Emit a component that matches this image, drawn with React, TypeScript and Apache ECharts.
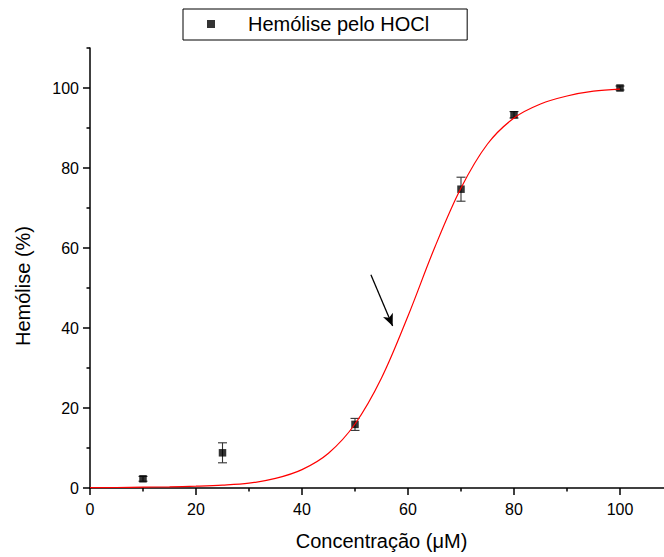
import React, { useEffect, useRef } from "react";
import * as echarts from "echarts";

const FONT = '"Liberation Sans", Arial, sans-serif';

// Measured points: [concentration µM, hemolysis %, error]
const pointX = [10, 25, 50, 70, 80, 100];
const pointY = [2.3, 8.8, 15.9, 74.7, 93.3, 100];
const pointErr = [0.6, 2.5, 1.5, 3.0, 0.8, 0.5];

// Fitted sigmoid curve
const curveX = [0, 5, 10, 15, 20, 25, 30, 35, 40, 45, 50, 55, 60, 65, 70, 75, 80, 85, 90, 95, 100];
const curveY = [0.1, 0.12, 0.2, 0.3, 0.45, 0.7, 1.2, 2.4, 4.6, 8.7, 16, 27.5, 43, 60, 75, 86, 92.5, 96, 98, 99.2, 99.7];

const majorTicks = [0, 20, 40, 60, 80, 100];
const minorTicks = [10, 30, 50, 70, 90, 110];

// Arrow annotation (data coords)
const arrowStart = [53.0, 53.3];
const arrowEnd = [57.1, 40.5];

const seriesName = "Hemólise pelo HOCl";

export default function App() {
  const ref = useRef<HTMLDivElement>(null);
  useEffect(() => {
    if (!ref.current) return;
    const chart = echarts.init(ref.current, null, { renderer: "svg" });
    const axisLine = { show: true, lineStyle: { color: "#000", width: 1.5 } };
    const label = { color: "#000", fontSize: 16, fontFamily: FONT };
    const option: any = {
      animation: false,
      backgroundColor: "#fff",
      grid: { left: 90, top: 48, width: 583, height: 440, outerBoundsMode: "none", containLabel: false },
      legend: {
        data: [seriesName],
        left: 183,
        top: 9,
        orient: "horizontal",
        icon: "rect",
        itemWidth: 8,
        itemHeight: 8,
        borderColor: "#000",
        borderWidth: 1,
        padding: [5, 38, 6, 24],
        textStyle: { color: "#000", fontSize: 20, fontFamily: FONT, lineHeight: 20, padding: [0, 0, 0, 28] },
        selectedMode: false,
      },
      xAxis: [
        {
          type: "value",
          min: 0,
          max: 110,
          interval: 10,
          position: "bottom",
          axisLine,
          splitLine: { show: false },
          axisTick: { show: true, inside: false, length: 7, customValues: majorTicks, lineStyle: { color: "#000", width: 1.5 } },
          axisLabel: { ...label, margin: 13, customValues: majorTicks },
          name: "Concentração (μM)",
          nameLocation: "middle",
          nameGap: 43,
          nameTextStyle: { color: "#000", fontSize: 20, fontFamily: FONT },
        },
        {
          type: "value",
          min: 0,
          max: 110,
          interval: 10,
          position: "bottom",
          axisLine: { show: false },
          splitLine: { show: false },
          axisTick: { show: true, inside: false, length: 3.5, customValues: minorTicks, lineStyle: { color: "#000", width: 1.5 } },
          axisLabel: { show: false },
        },
      ],
      yAxis: [
        {
          type: "value",
          min: 0,
          max: 110,
          interval: 10,
          position: "left",
          axisLine,
          splitLine: { show: false },
          axisTick: { show: true, inside: false, length: 7, customValues: majorTicks, lineStyle: { color: "#000", width: 1.5 } },
          axisLabel: { ...label, margin: 11, customValues: majorTicks },
        },
        {
          type: "value",
          min: 0,
          max: 110,
          interval: 10,
          position: "left",
          axisLine: { show: false },
          splitLine: { show: false },
          axisTick: { show: true, inside: false, length: 3.5, customValues: minorTicks, lineStyle: { color: "#000", width: 1.5 } },
          axisLabel: { show: false },
        },
      ],
      graphic: [
        {
          type: "text",
          x: 23,
          y: 286,
          rotation: Math.PI / 2,
          style: {
            text: "Hemólise (%)",
            fill: "#000",
            fontSize: 20,
            fontFamily: FONT,
            align: "center",
            verticalAlign: "middle",
          },
        },
      ],
      series: [
        {
          name: "errors",
          type: "custom",
          xAxisIndex: 0,
          yAxisIndex: 0,
          data: pointX.map((x, i) => [x, pointY[i], pointErr[i]]),
          encode: { x: 0, y: 1 },
          z: 2,
          renderItem: (params: any, api: any) => {
            const x = api.value(0);
            const y = api.value(1);
            const e = api.value(2);
            const top = api.coord([x, y + e]);
            const bot = api.coord([x, y - e]);
            const hw = 4.5;
            const st = { stroke: "#333", lineWidth: 1.1 };
            return {
              type: "group",
              children: [
                { type: "line", shape: { x1: top[0], y1: top[1], x2: bot[0], y2: bot[1] }, style: st },
                { type: "line", shape: { x1: top[0] - hw, y1: top[1], x2: top[0] + hw, y2: top[1] }, style: st },
                { type: "line", shape: { x1: bot[0] - hw, y1: bot[1], x2: bot[0] + hw, y2: bot[1] }, style: st },
              ],
            };
          },
        },
        {
          name: seriesName,
          type: "scatter",
          xAxisIndex: 0,
          yAxisIndex: 0,
          symbol: "rect",
          symbolSize: 7.5,
          itemStyle: { color: "#000" },
          z: 3,
          data: pointX.map((x, i) => [x, pointY[i]]),
        },
        {
          name: "fit",
          type: "line",
          xAxisIndex: 0,
          yAxisIndex: 0,
          showSymbol: false,
          symbol: "none",
          smooth: 0.35,
          lineStyle: { color: "#ff0000", width: 1.2 },
          z: 4,
          data: curveX.map((x, i) => [x, curveY[i]]),
          markLine: {
            silent: true,
            symbol: ["none", "arrow"],
            symbolSize: [8, 12],
            label: { show: false },
            lineStyle: { color: "#000", width: 1.3, type: "solid" },
            data: [[{ coord: arrowStart }, { coord: arrowEnd }]],
          },
        },
      ],
    };
    chart.setOption(option);
    return () => chart.dispose();
  }, []);
  return (
    <div
      ref={ref}
      style={{ position: "fixed", left: 0, top: 0, width: 664, height: 557, background: "#fff" }}
    />
  );
}
